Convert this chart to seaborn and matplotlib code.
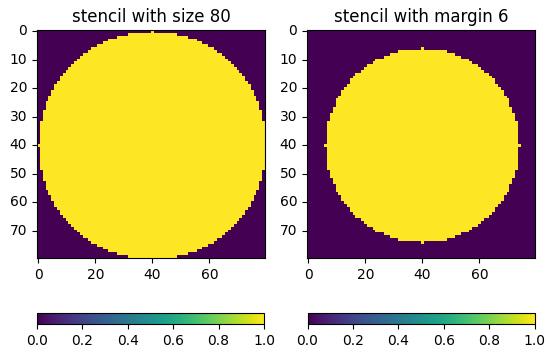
import numpy as np
import matplotlib
matplotlib.use("Agg")
import matplotlib.pyplot as plt
import seaborn as sns

# stencil parameters (read from the titles)
grid_size = 80
margins = [0, 6]
titles = ["stencil with size 80", "stencil with margin 6"]
x_ticks = [0, 20, 40, 60]
y_ticks = [0, 10, 20, 30, 40, 50, 60, 70]
cbar_ticks = [0.0, 0.2, 0.4, 0.6, 0.8, 1.0]


def make_stencil(size, margin):
    # disc centred on the grid, radius shrunk by the margin
    c = size // 2
    r = c - margin
    yy, xx = np.mgrid[0:size, 0:size]
    return (((xx - c) ** 2 + (yy - c) ** 2) <= r ** 2).astype(float)


fig = plt.figure(figsize=(5.54, 3.56), dpi=100)
W, H = 554, 356

ax_px = [(37, 30, 228, 228), (307, 30, 228, 228)]
cb_px = [(37, 312.5, 227, 11.8), (307.5, 312.5, 227, 11.8)]

for i, margin in enumerate(margins):
    x, y, w, h = ax_px[i]
    ax = fig.add_axes([x / W, 1 - (y + h) / H, w / W, h / H])
    cx, cy, cw, ch = cb_px[i]
    cax = fig.add_axes([cx / W, 1 - (cy + ch) / H, cw / W, ch / H])

    stencil = make_stencil(grid_size, margin)
    sns.heatmap(stencil, ax=ax, cmap="viridis", vmin=0, vmax=1,
                cbar_ax=cax, cbar_kws={"orientation": "horizontal"})

    ax.set_xticks([t + 0.5 for t in x_ticks])
    ax.set_xticklabels([str(t) for t in x_ticks], rotation=0)
    ax.set_yticks([t + 0.5 for t in y_ticks])
    ax.set_yticklabels([str(t) for t in y_ticks], rotation=0)
    ax.tick_params(length=3.5, width=0.8, labelsize=10)
    for s in ax.spines.values():
        s.set_visible(True)
        s.set_linewidth(0.8)
    ax.set_title(titles[i], fontsize=12)

    cb = ax.collections[0].colorbar
    cb.set_ticks(cbar_ticks)
    cb.set_ticklabels([f"{t:.1f}" for t in cbar_ticks])
    cb.outline.set_visible(True)
    cb.outline.set_linewidth(0.8)
    cax.tick_params(length=3.5, width=0.8, labelsize=10)

fig.savefig("out.png", dpi=100)
